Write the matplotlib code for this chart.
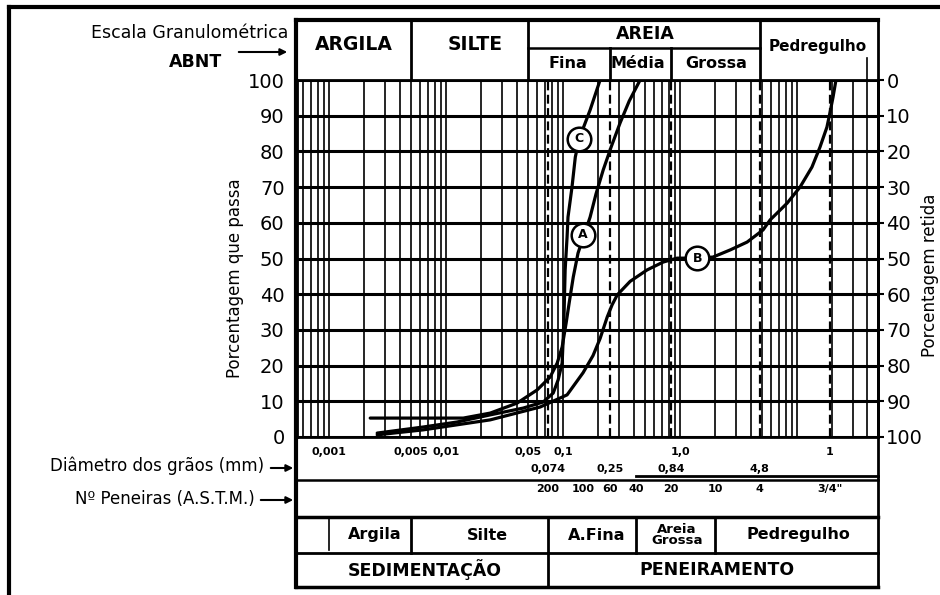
import numpy as np
import matplotlib
matplotlib.use("Agg")
import matplotlib.pyplot as plt
from matplotlib import transforms
from matplotlib.lines import Line2D
from matplotlib.patches import FancyArrowPatch
from matplotlib.ticker import LogLocator, NullFormatter

# ---- data ----
pct_ticks = [0, 10, 20, 30, 40, 50, 60, 70, 80, 90, 100]

# curve A (diameter mm, % passing)
A_d = [0.00224, 0.0140, 0.0238, 0.0404, 0.0600, 0.0774, 0.0889, 0.098, 0.106,
       0.1125, 0.122, 0.134, 0.151, 0.170, 0.191, 0.220, 0.257, 0.307, 0.367, 0.455]
A_p = [5.3, 5.3, 6.7, 9.5, 13.2, 16.8, 20.7, 25.2, 31.9,
       37.5, 44.8, 51.5, 56.6, 61.6, 68.1, 74.8, 81.2, 88.0, 94.1, 100]

# curve B
B_d = [0.00257, 0.00636, 0.0238, 0.0636, 0.108, 0.148, 0.180, 0.207, 0.238,
       0.262, 0.290, 0.374, 0.522, 0.716, 0.943, 1.40, 1.91, 2.68, 3.74, 5.12,
       5.88, 8.22, 10.6, 13.4, 15.7, 18.0, 19.1, 20.3, 21.5]
B_p = [0.6, 2.0, 4.8, 8.4, 11.8, 18.0, 22.8, 27.6, 33.6,
       37.0, 39.8, 43.6, 46.8, 49.0, 50.1, 50.1, 50.4, 52.4, 54.6, 58.0,
       60.8, 65.5, 70.0, 75.6, 81.2, 86.8, 90.8, 95.2, 100]

# curve C
C_d = [0.00257, 0.00636, 0.0124, 0.0238, 0.0455, 0.0675, 0.0822, 0.0906, 0.098,
       0.100, 0.102, 0.104, 0.108, 0.110, 0.119, 0.127, 0.137, 0.170, 0.207]
C_p = [1.1, 2.8, 4.2, 6.2, 8.1, 9.8, 12.3, 16.0, 20.7,
       27.2, 35.6, 46.8, 56.0, 61.6, 70.0, 78.4, 83.5, 91.6, 100]

# circled curve names
tag_names = ["A", "B", "C"]
tag_d = [0.148, 1.40, 0.137]
tag_p = [56.6, 50.1, 83.5]

# axis labels under the grid
diam_vals_1 = [0.001, 0.005, 0.01, 0.05, 0.1, 1.0, 19.1]
diam_labs_1 = ["0,001", "0,005", "0,01", "0,05", "0,1", "1,0", "1"]
diam_vals_2 = [0.074, 0.25, 0.84, 4.8]
diam_labs_2 = ["0,074", "0,25", "0,84", "4,8"]
sieve_vals = [0.074, 0.149, 0.25, 0.42, 0.84, 2.0, 4.8, 19.1]
sieve_labs = ["200", "100", "60", "40", "20", "10", "4", '3/4"']

# class boundaries (mm)
abnt_bounds = [0.005, 0.05, 4.8]
areia_bounds = [0.25, 0.84]
table_bounds = [0.005, 0.074, 0.42, 2.0]

W, H = 940, 595
fig = plt.figure(figsize=(9.4, 5.95), dpi=100)


def fx(p):
    return p / W


def fy(p):
    return 1 - p / H


def hline(y, x0, x1, lw=2.0):
    fig.add_artist(Line2D([fx(x0), fx(x1)], [fy(y), fy(y)], color="k", lw=lw,
                          transform=fig.transFigure))


def vline(x, y0, y1, lw=2.0):
    fig.add_artist(Line2D([fx(x), fx(x)], [fy(y0), fy(y1)], color="k", lw=lw,
                          transform=fig.transFigure))


ax = fig.add_axes([fx(297), fy(437), fx(878) - fx(297), fy(80) - fy(437)])
ax.set_xscale("log")
ax.set_xlim(0.00053, 49.2)
ax.set_ylim(0, 100)
ax.xaxis.set_major_locator(LogLocator(base=10, numticks=20))
ax.xaxis.set_minor_locator(LogLocator(base=10, subs=np.arange(2, 10), numticks=60))
ax.xaxis.set_minor_formatter(NullFormatter())
ax.grid(axis="x", which="both", color="k", lw=1.2)
ax.set_yticks(pct_ticks)
ax.grid(axis="y", color="k", lw=2.2)
ax.tick_params(axis="x", which="both", length=0, labelbottom=False)
ax.tick_params(axis="y", length=0, pad=9, labelsize=14)
for s in ax.spines.values():
    s.set_linewidth(2)

# dashed sieve lines
for d in [0.074, 0.25, 0.84, 4.8, 19.1]:
    ax.axvline(d, color="k", lw=1.6, ls=(0, (4, 2)), zorder=3)

for xs, ys in [(A_d, A_p), (B_d, B_p), (C_d, C_p)]:
    ax.plot(xs, ys, color="k", lw=2.3, solid_capstyle="round",
            solid_joinstyle="round", zorder=5)

ax.plot(tag_d, tag_p, "o", ms=17, mfc="white", mec="k", mew=1.8, zorder=6)
for n, d, p in zip(tag_names, tag_d, tag_p):
    ax.text(d, p, n, ha="center", va="center", fontsize=9, fontweight="bold", zorder=7)

ax2 = ax.twinx()
ax2.set_ylim(100, 0)
ax2.set_yticks(pct_ticks)
ax2.tick_params(axis="y", length=4, width=1.5, pad=2, labelsize=14)
for k in ["left", "top", "bottom"]:
    ax2.spines[k].set_visible(False)
ax2.spines["right"].set_linewidth(2)

bt = transforms.blended_transform_factory(ax.transData, fig.transFigure)

# ---- outer page border ----
vline(9, 7, 595, lw=3)
hline(7, 9, 940, lw=3)

# ---- chart frame ----
vline(296, 20, 587, lw=3)
vline(878, 20, 587, lw=2)
hline(20, 296, 878, lw=3)
hline(587, 296, 878, lw=2.5)
hline(480, 296, 878, lw=1.8)
hline(517, 296, 878, lw=2.5)
hline(553, 296, 878, lw=2)


def dline(d, y0, y1, lw=2.0):
    fig.add_artist(Line2D([d, d], [fy(y0), fy(y1)], color="k", lw=lw, transform=bt))


# header
for d in abnt_bounds:
    dline(d, 20, 80)
for d in areia_bounds:
    dline(d, 48, 80)
dline(40, 58, 80, lw=1.2)
fig.add_artist(Line2D([0.05, 4.8], [fy(48), fy(48)], color="k", lw=1.8, transform=bt))
fig.add_artist(Line2D([0.42, 49.2], [fy(476), fy(476)], color="k", lw=2, transform=bt))

# bottom table
dline(0.001, 518, 550, lw=1.2)
for d in table_bounds:
    dline(d, 517, 553)
dline(0.074, 553, 587)

hdr = dict(ha="center", va="center", fontweight="bold")
fig.text(fx(354), fy(45), "ARGILA", fontsize=13.5, **hdr)
fig.text(fx(475), fy(45), "SILTE", fontsize=13.5, **hdr)
fig.text(fx(645), fy(34), "AREIA", fontsize=12.5, **hdr)
fig.text(fx(568), fy(64), "Fina", fontsize=11.5, **hdr)
fig.text(fx(638), fy(64), "Média", fontsize=11.5, **hdr)
fig.text(fx(716), fy(64), "Grossa", fontsize=11.5, **hdr)
fig.text(fx(818), fy(47), "Pedregulho", fontsize=11, **hdr)

fig.text(fx(375), fy(535), "Argila", fontsize=11.5, **hdr)
fig.text(fx(487), fy(535), "Silte", fontsize=11.5, **hdr)
fig.text(fx(597), fy(535), "A.Fina", fontsize=11.5, **hdr)
fig.text(fx(677), fy(535), "Areia\nGrossa", fontsize=9.5, linespacing=0.85, **hdr)
fig.text(fx(798), fy(534), "Pedregulho", fontsize=11.5, **hdr)
fig.text(fx(425), fy(570), "SEDIMENTAÇÃO", fontsize=12.5, **hdr)
fig.text(fx(717), fy(570), "PENEIRAMENTO", fontsize=12.5, **hdr)

small = dict(ha="center", va="center", fontsize=8, fontweight="bold")
for d, t in zip(diam_vals_1, diam_labs_1):
    ax.text(d, fy(452), t, transform=bt, **small)
for d, t in zip(diam_vals_2, diam_labs_2):
    ax.text(d, fy(469), t, transform=bt, **small)
for d, t in zip(sieve_vals, sieve_labs):
    ax.text(d, fy(489), t, transform=bt, **small)

# left side captions
fig.text(fx(288), fy(33), "Escala Granulométrica", ha="right", va="center", fontsize=12.5)
fig.text(fx(222), fy(62), "ABNT", ha="right", va="center", fontsize=12.5, fontweight="bold")
fig.text(fx(264), fy(466), "Diâmetro dos grãos (mm)", ha="right", va="center", fontsize=12)
fig.text(fx(255), fy(499), "Nº Peneiras (A.S.T.M.)", ha="right", va="center", fontsize=12)
fig.text(fx(235), fy(278), "Porcentagem que passa", rotation=90, ha="center", va="center",
         fontsize=12)
fig.text(fx(930), fy(275), "Porcentagem retida", rotation=90, ha="center", va="center",
         fontsize=12)

arrow = dict(arrowstyle="-|>", color="k", lw=1.5, mutation_scale=10)
for (x0, x1, y) in [(236, 290, 52), (268, 296, 468), (258, 296, 500)]:
    fig.add_artist(FancyArrowPatch((fx(x0), fy(y)), (fx(x1), fy(y)),
                                   transform=fig.transFigure, **arrow))

fig.savefig("out.png", dpi=100)
